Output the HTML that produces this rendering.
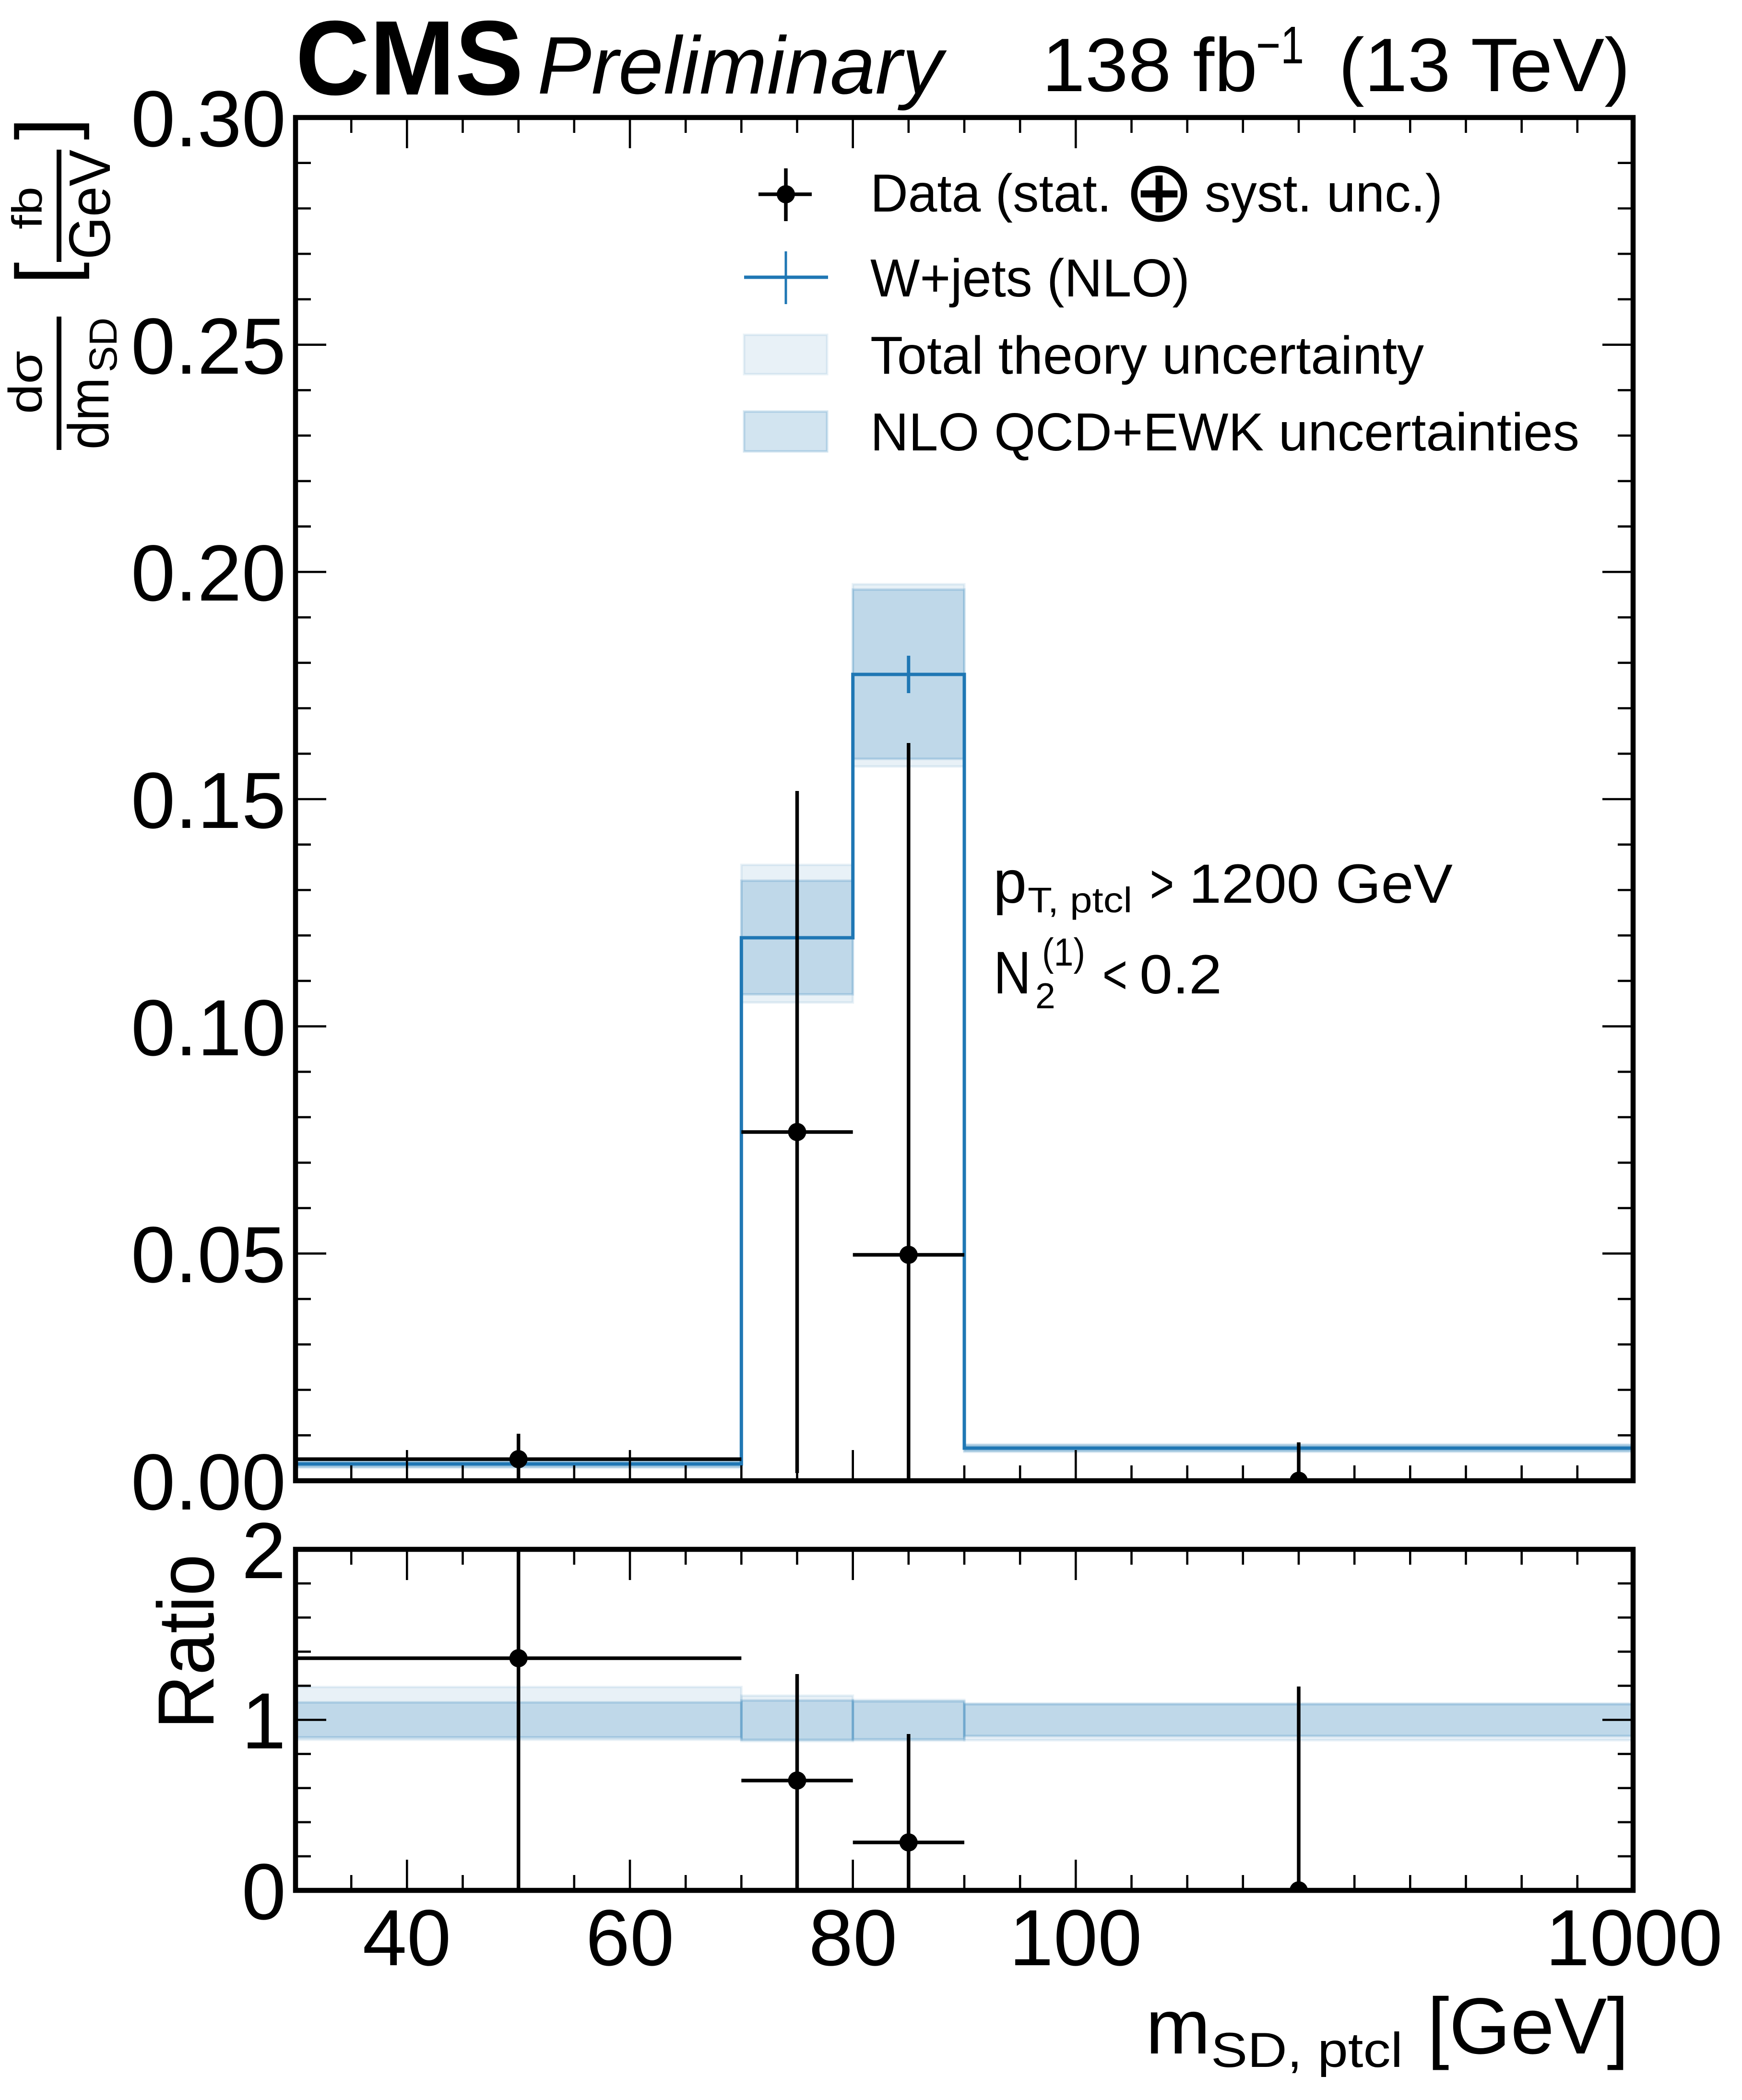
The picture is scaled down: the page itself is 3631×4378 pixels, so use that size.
<!DOCTYPE html>
<html>
<head>
<meta charset="utf-8">
<style>
html,body{margin:0;padding:0;background:#fff;}
svg{display:block;}
text{font-family:"Liberation Sans","DejaVu Sans",sans-serif;fill:#000;}
</style>
</head>
<body>
<svg width="3631" height="4378" viewBox="0 0 3631 4378" xmlns="http://www.w3.org/2000/svg">
<defs>
<clipPath id="cm"><rect x="616" y="245" width="2788" height="2842"/></clipPath>
<clipPath id="cr"><rect x="616" y="3230" width="2788" height="711"/></clipPath>
</defs>
<rect x="0" y="0" width="3631" height="4378" fill="#fff"/>

<!-- ===== Header ===== -->
<text x="616" y="197" font-size="221" font-weight="bold" textLength="475" lengthAdjust="spacingAndGlyphs">CMS</text>
<text x="1120" y="195" font-size="170" font-style="italic" textLength="845" lengthAdjust="spacingAndGlyphs">Preliminary</text>
<text x="2172" y="190" font-size="158" textLength="449" lengthAdjust="spacingAndGlyphs">138 fb</text>
<text x="2618" y="132" font-size="110" textLength="100" lengthAdjust="spacingAndGlyphs">−1</text>
<text x="2790" y="190" font-size="158" textLength="608" lengthAdjust="spacingAndGlyphs">(13 TeV)</text>

<!-- ===== Main panel bands ===== -->
<g stroke-width="5">
<g fill="rgba(31,119,180,0.1)" stroke="rgba(31,119,180,0.1)">
<rect x="616" y="3045" width="929.3" height="15"/>
<rect x="1545.3" y="1803" width="232.4" height="287"/>
<rect x="1777.7" y="1218" width="232.3" height="380"/>
<rect x="2010" y="3011" width="1394" height="16"/>
</g>
<g fill="rgba(31,119,180,0.2)" stroke="rgba(31,119,180,0.2)">
<rect x="616" y="3047" width="929.3" height="11"/>
<rect x="1545.3" y="1836" width="232.4" height="237"/>
<rect x="1777.7" y="1229" width="232.3" height="353"/>
<rect x="2010" y="3013" width="1394" height="12"/>
</g>
</g>

<!-- MC histogram -->
<path d="M616 3052 H1545.3 V1955 H1777.7 V1406 H2010 V3019 H3404" fill="none" stroke="#1f77b4" stroke-width="7"/>
<path d="M1893.8 1367 V1445" stroke="#1f77b4" stroke-width="7"/>

<!-- Data main -->
<g stroke="#000" stroke-width="7.5" fill="none">
<path d="M616 3042 H1545.3 M1080.7 2989 V3087"/>
<path d="M1545.3 2360 H1777.7 M1661.5 1649 V3071"/>
<path d="M1777.7 2616 H2010 M1893.8 1549 V3087"/>
<path d="M2707 3007 V3087"/>
</g>
<g fill="#000" clip-path="url(#cm)">
<circle cx="1080.7" cy="3042" r="19"/>
<circle cx="1661.5" cy="2360" r="19"/>
<circle cx="1893.8" cy="2616" r="19"/>
<circle cx="2707" cy="3087" r="19"/>
</g>

<!-- Legend -->
<path d="M1638 351 V461 M1581 405 H1692" stroke="#000" stroke-width="7.5"/>
<circle cx="1638" cy="405" r="19" fill="#000"/>
<text x="1814" y="441" font-size="111" textLength="503" lengthAdjust="spacingAndGlyphs">Data (stat.</text>
<text x="2416" y="460" font-size="178" text-anchor="middle" style="font-family:'DejaVu Sans',sans-serif;">⊕</text>
<text x="2511" y="441" font-size="111" textLength="496" lengthAdjust="spacingAndGlyphs">syst. unc.)</text>

<path d="M1551 578 H1726" stroke="#1f77b4" stroke-width="7"/>
<path d="M1638 524 V634" stroke="#1f77b4" stroke-width="5"/>
<text x="1814" y="618" font-size="111" textLength="666" lengthAdjust="spacingAndGlyphs">W+jets (NLO)</text>

<rect x="1551" y="698" width="173" height="82" fill="rgba(31,119,180,0.1)" stroke="rgba(31,119,180,0.1)" stroke-width="5"/>
<text x="1814" y="779" font-size="111" textLength="1154" lengthAdjust="spacingAndGlyphs">Total theory uncertainty</text>

<rect x="1551" y="858" width="173" height="83" fill="rgba(31,119,180,0.2)" stroke="rgba(31,119,180,0.2)" stroke-width="5"/>
<text x="1814" y="939" font-size="111" textLength="1478" lengthAdjust="spacingAndGlyphs">NLO QCD+EWK uncertainties</text>

<!-- Annotation -->
<text x="2070" y="1882" font-size="126">p</text>
<text x="2142" y="1902" font-size="74" textLength="218" lengthAdjust="spacingAndGlyphs">T, ptcl</text>
<text x="2397" y="1882" font-size="115" textLength="50" lengthAdjust="spacingAndGlyphs">&gt;</text>
<text x="2478" y="1882" font-size="115" textLength="550" lengthAdjust="spacingAndGlyphs">1200 GeV</text>
<text x="2071" y="2071" font-size="125" textLength="78" lengthAdjust="spacingAndGlyphs">N</text>
<text x="2158" y="2102" font-size="75">2</text>
<text x="2172" y="2013" font-size="82" textLength="90" lengthAdjust="spacingAndGlyphs">(1)</text>
<text x="2298" y="2071" font-size="115" textLength="52" lengthAdjust="spacingAndGlyphs">&lt;</text>
<text x="2375" y="2071" font-size="115" textLength="172" lengthAdjust="spacingAndGlyphs">0.2</text>

<!-- ===== Ratio panel bands ===== -->
<g stroke-width="5">
<g fill="rgba(31,119,180,0.1)" stroke="rgba(31,119,180,0.1)">
<rect x="616" y="3517" width="929.3" height="110"/>
<rect x="1545.3" y="3535" width="232.4" height="95"/>
<rect x="1777.7" y="3544" width="232.3" height="85"/>
<rect x="2010" y="3551" width="1394" height="77"/>
</g>
<g fill="rgba(31,119,180,0.2)" stroke="rgba(31,119,180,0.2)">
<rect x="616" y="3549" width="929.3" height="73"/>
<rect x="1545.3" y="3545" width="232.4" height="82"/>
<rect x="1777.7" y="3547" width="232.3" height="79"/>
<rect x="2010" y="3553" width="1394" height="66"/>
</g>
</g>

<!-- Data ratio -->
<g stroke="#000" stroke-width="7.5" fill="none">
<path d="M616 3457 H1545.3 M1080.7 3230 V3941"/>
<path d="M1545.3 3712 H1777.7 M1661.5 3490 V3941"/>
<path d="M1777.7 3841 H2010 M1893.8 3615 V3941"/>
<path d="M2707 3516 V3941"/>
</g>
<g fill="#000" clip-path="url(#cr)">
<circle cx="1080.7" cy="3457" r="19"/>
<circle cx="1661.5" cy="3712" r="19"/>
<circle cx="1893.8" cy="3841" r="19"/>
<circle cx="2707" cy="3941" r="19"/>
</g>

<!-- ===== Ticks ===== -->
<g stroke="#000" stroke-width="4.6" fill="none">
<path d="M732.2 3087v-32M964.5 3087v-32M1080.7 3087v-32M1196.8 3087v-32M1429.2 3087v-32M1545.3 3087v-32M1661.5 3087v-32M1893.8 3087v-32M2010 3087v-32M2126.2 3087v-32M2358.5 3087v-32M2474.7 3087v-32M2590.8 3087v-32M2707 3087v-32M2823.2 3087v-32M2939.3 3087v-32M3055.5 3087v-32M3171.7 3087v-32M3287.8 3087v-32"/>
<path d="M732.2 245v32M964.5 245v32M1080.7 245v32M1196.8 245v32M1429.2 245v32M1545.3 245v32M1661.5 245v32M1893.8 245v32M2010 245v32M2126.2 245v32M2358.5 245v32M2474.7 245v32M2590.8 245v32M2707 245v32M2823.2 245v32M2939.3 245v32M3055.5 245v32M3171.7 245v32M3287.8 245v32"/>
<path d="M848.3 3087v-64M1313 3087v-64M1777.7 3087v-64M2242.3 3087v-64M848.3 245v64M1313 245v64M1777.7 245v64M2242.3 245v64"/>
<path d="M732.2 3941v-32M964.5 3941v-32M1080.7 3941v-32M1196.8 3941v-32M1429.2 3941v-32M1545.3 3941v-32M1661.5 3941v-32M1893.8 3941v-32M2010 3941v-32M2126.2 3941v-32M2358.5 3941v-32M2474.7 3941v-32M2590.8 3941v-32M2707 3941v-32M2823.2 3941v-32M2939.3 3941v-32M3055.5 3941v-32M3171.7 3941v-32M3287.8 3941v-32"/>
<path d="M732.2 3230v32M964.5 3230v32M1080.7 3230v32M1196.8 3230v32M1429.2 3230v32M1545.3 3230v32M1661.5 3230v32M1893.8 3230v32M2010 3230v32M2126.2 3230v32M2358.5 3230v32M2474.7 3230v32M2590.8 3230v32M2707 3230v32M2823.2 3230v32M2939.3 3230v32M3055.5 3230v32M3171.7 3230v32M3287.8 3230v32"/>
<path d="M848.3 3941v-64M1313 3941v-64M1777.7 3941v-64M2242.3 3941v-64M848.3 3230v64M1313 3230v64M1777.7 3230v64M2242.3 3230v64"/>
<path d="M616 2992.3h32M616 2897.5h32M616 2802.8h32M616 2708.1h32M616 2518.6h32M616 2423.9h32M616 2329.1h32M616 2234.4h32M616 2044.9h32M616 1950.2h32M616 1855.5h32M616 1760.7h32M616 1571.3h32M616 1476.5h32M616 1381.8h32M616 1287.1h32M616 1097.6h32M616 1002.9h32M616 908.1h32M616 813.4h32M616 623.9h32M616 529.2h32M616 434.5h32M616 339.7h32"/>
<path d="M3404 2992.3h-32M3404 2897.5h-32M3404 2802.8h-32M3404 2708.1h-32M3404 2518.6h-32M3404 2423.9h-32M3404 2329.1h-32M3404 2234.4h-32M3404 2044.9h-32M3404 1950.2h-32M3404 1855.5h-32M3404 1760.7h-32M3404 1571.3h-32M3404 1476.5h-32M3404 1381.8h-32M3404 1287.1h-32M3404 1097.6h-32M3404 1002.9h-32M3404 908.1h-32M3404 813.4h-32M3404 623.9h-32M3404 529.2h-32M3404 434.5h-32M3404 339.7h-32"/>
<path d="M616 2613.3h64M616 2139.7h64M616 1666h64M616 1192.3h64M616 718.7h64M3404 2613.3h-64M3404 2139.7h-64M3404 1666h-64M3404 1192.3h-64M3404 718.7h-64"/>
<path d="M616 3869.9h32M616 3798.8h32M616 3727.7h32M616 3656.6h32M616 3514.4h32M616 3443.3h32M616 3372.2h32M616 3301.1h32M3404 3869.9h-32M3404 3798.8h-32M3404 3727.7h-32M3404 3656.6h-32M3404 3514.4h-32M3404 3443.3h-32M3404 3372.2h-32M3404 3301.1h-32"/>
<path d="M616 3585.5h64M3404 3585.5h-64"/>
</g>

<!-- Spines -->
<rect x="616" y="245" width="2788" height="2842" fill="none" stroke="#000" stroke-width="10.5"/>
<rect x="616" y="3230" width="2788" height="711" fill="none" stroke="#000" stroke-width="10.5"/>

<!-- ===== Tick labels ===== -->
<g font-size="166" text-anchor="end">
<text x="596" y="305">0.30</text>
<text x="596" y="779">0.25</text>
<text x="596" y="1252">0.20</text>
<text x="596" y="1726">0.15</text>
<text x="596" y="2200">0.10</text>
<text x="596" y="2673">0.05</text>
<text x="596" y="3147">0.00</text>
<text x="596" y="3290">2</text>
<text x="596" y="3645">1</text>
<text x="596" y="4001">0</text>
</g>
<g font-size="166" text-anchor="middle">
<text x="848" y="4097">40</text>
<text x="1313" y="4097">60</text>
<text x="1778" y="4097">80</text>
<text x="2242" y="4097">100</text>
<text x="3406" y="4097">1000</text>
</g>

<!-- X axis label -->
<text x="2388" y="4281" font-size="162">m</text>
<text x="2524" y="4309" font-size="102" textLength="400" lengthAdjust="spacingAndGlyphs">SD, ptcl</text>
<text x="2975" y="4281" font-size="166" textLength="420" lengthAdjust="spacingAndGlyphs">[GeV]</text>

<!-- Y axis labels (rotated) -->
<rect x="118" y="660" width="10" height="278" fill="#000"/>
<rect x="118" y="312" width="10" height="234" fill="#000"/>
<g transform="rotate(-90)">
<text x="-863" y="87" font-size="98" textLength="132" lengthAdjust="spacingAndGlyphs">dσ</text>
<text x="-937" y="226" font-size="120" textLength="150" lengthAdjust="spacingAndGlyphs">dm</text>
<text x="-776" y="243" font-size="82" textLength="114" lengthAdjust="spacingAndGlyphs">SD</text>
<text x="-593" y="151" font-size="168">[</text>
<text x="-478" y="87" font-size="88" textLength="89" lengthAdjust="spacingAndGlyphs">fb</text>
<text x="-541" y="229" font-size="122" textLength="229" lengthAdjust="spacingAndGlyphs">GeV</text>
<text x="-292" y="151" font-size="168">]</text>
<text x="-3605" y="445" font-size="166" textLength="365" lengthAdjust="spacingAndGlyphs">Ratio</text>
</g>
</svg>
</body>
</html>
